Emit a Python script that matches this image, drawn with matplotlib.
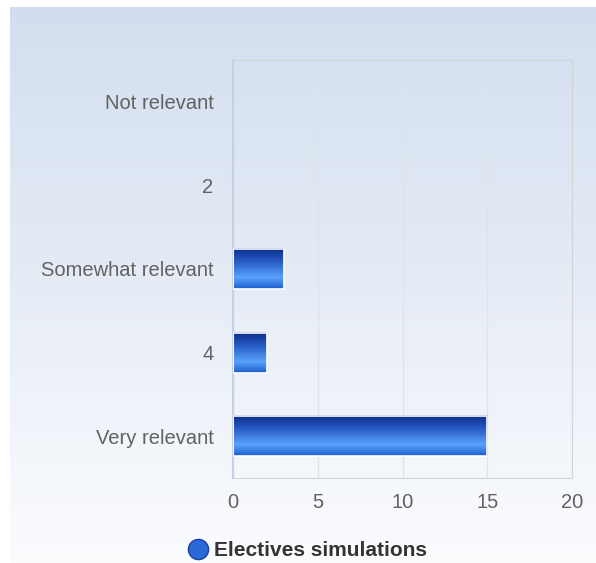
import numpy as np
import matplotlib.pyplot as plt
from matplotlib.colors import LinearSegmentedColormap
from matplotlib.lines import Line2D

categories = ["Not relevant", "2", "Somewhat relevant", "4", "Very relevant"]
counts = [0, 0, 3, 2, 15]
series_name = "Electives simulations"

plt.rcParams['font.family'] = ['Liberation Sans', 'DejaVu Sans']

fig = plt.figure(figsize=(5.96, 5.63), dpi=100)
fig.patch.set_facecolor('white')

# background panel, light blue fading to white
bg = fig.add_axes([10/596, 0, 586/596, 556/563], zorder=-10)
grad = np.linspace(0, 1, 256).reshape(-1, 1)
bg_cmap = LinearSegmentedColormap.from_list('bg', ['#d2deef', '#e6ecf6', '#fbfcfe'])
bg.imshow(grad, aspect='auto', cmap=bg_cmap, extent=[0, 1, 0, 1], origin='upper')
bg.axis('off')

ax = fig.add_axes([233/596, 1-478/563, (572-233)/596, (478-60)/563])
ax.patch.set_alpha(0)

y = np.arange(len(categories))[::-1]
bars = ax.barh(y, counts, height=0.48, color='none', edgecolor='white', linewidth=1.2, zorder=3)

bar_cmap = LinearSegmentedColormap.from_list(
    'bar', [(0, '#0b2c8c'), (0.35, '#2a5ec8'), (0.72, '#5aa2fb'), (1, '#1f5fd0')])
vgrad = np.linspace(0, 1, 64).reshape(-1, 1)
for b in bars:
    w = b.get_width()
    if w <= 0:
        b.set_linewidth(0)
        continue
    x0, y0 = b.get_x(), b.get_y()
    h = b.get_height()
    ax.imshow(vgrad, aspect='auto', cmap=bar_cmap, origin='upper',
              extent=[x0, x0 + w, y0, y0 + h], zorder=2)

ax.set_xlim(0, 20)
ax.set_ylim(-0.5, len(categories) - 0.5)
ax.set_yticks(y)
ax.set_yticklabels(categories)
ax.set_xticks([0, 5, 10, 15, 20])
ax.tick_params(length=0, labelsize=14.5, labelcolor='#626262')
ax.tick_params(axis='y', pad=14)
ax.tick_params(axis='x', pad=11)
ax.xaxis.grid(True, color='#dfe3ea', linewidth=1)
ax.set_axisbelow(True)
for s in ax.spines.values():
    s.set_color('#d4d4d4')
ax.spines['left'].set_color('#c5cfe6')
ax.spines['left'].set_linewidth(1.5)

handle = Line2D([], [], marker='o', linestyle='none', markersize=14.5,
                markerfacecolor='#2a6ad8', markeredgecolor='#1a3fa0')
fig.legend([handle], [series_name], loc='center', bbox_to_anchor=(302/596, 1-551/563),
           frameon=False, prop={'weight': 'bold', 'size': 15}, labelcolor='#333333',
           handletextpad=-0.2, borderpad=0)

fig.savefig('out.png', dpi=100)
